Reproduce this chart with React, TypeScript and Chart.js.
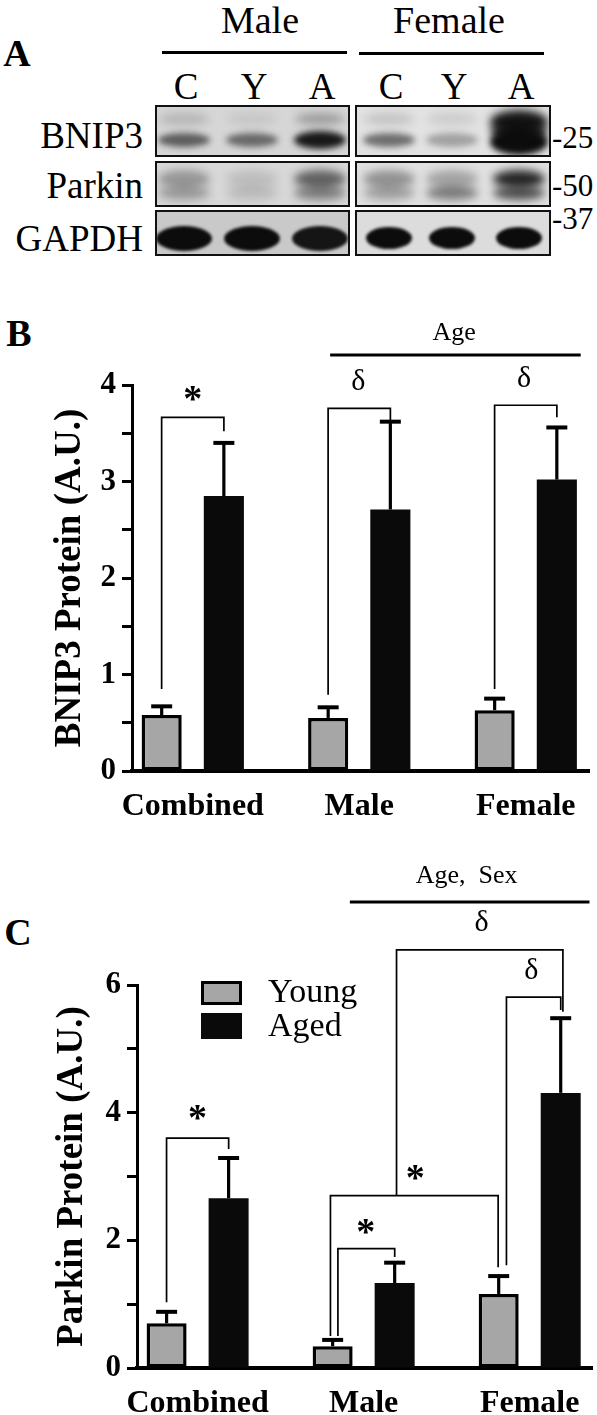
import React, { useEffect, useRef } from 'react';
import { Chart, registerables } from 'chart.js';

Chart.register(...registerables);

const SERIF = '"Liberation Serif", "Times New Roman", serif';
Chart.defaults.font.family = SERIF;
Chart.defaults.color = '#000';

// ---------- Panel A (western blot) ----------
const blotSexes = ['Male', 'Female'];
const blotLanes = ['C', 'Y', 'A'];
const blotRows = ['BNIP3', 'Parkin', 'GAPDH'];
const blotMarkers = ['-25', '-50', '-37'];
// band darkness per lane: Male C, Y, A, Female C, Y, A
const bnip3Upper = [0.16, 0.08, 0.28, 0.14, 0.1, 0.95];
const bnip3Lower = [0.6, 0.54, 0.94, 0.54, 0.3, 1.0];
const parkinUpper = [0.32, 0.12, 0.58, 0.36, 0.28, 0.88];
const parkinLower = [0.3, 0.14, 0.44, 0.3, 0.47, 0.68];
const gapdhBand = [1, 1, 0.95, 1, 1, 1];

// ---------- Panels B & C (bar charts) ----------
const groups = ['Combined', 'Male', 'Female'];
const groupIndex = [0, 1, 2];
const seriesNames = ['Young', 'Aged'];

const bnip3Young = [0.58, 0.55, 0.63];
const bnip3YoungErr = [0.09, 0.11, 0.12];
const bnip3Aged = [2.85, 2.71, 3.02];
const bnip3AgedErr = [0.55, 0.91, 0.54];
const bnip3Max = 4;
const bnip3Step = 0.5;

const parkinYoung = [0.7, 0.34, 1.16];
const parkinYoungErr = [0.18, 0.1, 0.28];
const parkinAged = [2.66, 1.33, 4.31];
const parkinAgedErr = [0.63, 0.32, 1.17];
const parkinMax = 6;
const parkinStep = 1;

type Bracket = { x1: number; x2: number; top: number; b1: number; b2: number };
type Mark = { x: number; y: number; text: string; kind: 'star' | 'delta' };
type Factor = { x1: number; x2: number; y: number; text: string; tx: number; ty: number };

const bnip3Brackets: Bracket[] = [
  { x1: -0.187, x2: 0.187, top: 3.665, b1: 0.85, b2: 3.52 },
  { x1: 0.813, x2: 1.187, top: 3.758, b1: 0.79, b2: 3.62 },
  { x1: 1.813, x2: 2.187, top: 3.79, b1: 0.85, b2: 3.665 },
];
const bnip3Marks: Mark[] = [
  { x: 0, y: 3.91, text: '*', kind: 'star' },
  { x: 0.994, y: 4.03, text: 'δ', kind: 'delta' },
  { x: 1.99, y: 4.06, text: 'δ', kind: 'delta' },
];
const bnip3Factor: Factor = { x1: 0.825, x2: 2.33, y: 4.31, text: 'Age', tx: 1.57, ty: 4.54 };

const parkinBrackets: Bracket[] = [
  { x1: -0.187, x2: 0.187, top: 3.6, b1: 1.03, b2: 3.43 },
  { x1: 0.845, x2: 1.187, top: 1.87, b1: 0.5, b2: 1.74 },
  { x1: 0.8, x2: 1.81, top: 2.7, b1: 0.5, b2: 1.58 },
  { x1: 1.198, x2: 2.2, top: 6.55, b1: 2.7, b2: 5.58 },
  { x1: 1.86, x2: 2.187, top: 5.81, b1: 1.61, b2: 5.61 },
];
const parkinMarks: Mark[] = [
  { x: 0, y: 4.0, text: '*', kind: 'star' },
  { x: 1.013, y: 2.21, text: '*', kind: 'star' },
  { x: 1.31, y: 3.06, text: '*', kind: 'star' },
  { x: 1.71, y: 6.97, text: 'δ', kind: 'delta' },
  { x: 2.01, y: 6.21, text: 'δ', kind: 'delta' },
];
const parkinFactor: Factor = { x1: 0.917, x2: 2.36, y: 7.3, text: 'Age,  Sex', tx: 1.62, ty: 7.7 };

function Txt(props: { x: number; y: number; size: number; bold?: boolean; align?: 'center' | 'left' | 'right'; children: any }) {
  const { x, y, size, bold, align = 'center', children } = props;
  const tx = align === 'center' ? '-50%' : align === 'right' ? '-100%' : '0';
  return (
    <div
      style={{
        position: 'absolute',
        left: x,
        top: y,
        transform: `translate(${tx},-50%)`,
        fontSize: size,
        fontWeight: bold ? 700 : 400,
        lineHeight: 1,
        whiteSpace: 'pre',
        fontFamily: SERIF,
        color: '#000',
      }}
    >
      {children}
    </div>
  );
}

function PanelA() {
  const laneX = [184, 252, 320, 389, 452, 519];
  const boxes = [
    { l: 155, r: 350 },
    { l: 355, r: 551 },
  ];
  const rows = [
    { t: 105, b: 157 },
    { t: 161, b: 207 },
    { t: 210, b: 256 },
  ];
  const bg = [
    ['#d6d6d6', '#e2e2e2'],
    ['#d8d8d8', '#e0e0e0'],
    ['#c9c9c9', '#dcdcdc'],
  ];
  type Band = { row: number; lane: number; cy: number; w: number; h: number; a: number; blur: number };
  const bands: Band[] = [];
  laneX.forEach((_, i) => {
    const fem = i >= 3;
    const fa = i === 5;
    bands.push({ row: 0, lane: i, cy: fa ? 17 : 14, w: fa ? 58 : 50, h: fa ? 24 : 12, a: bnip3Upper[i], blur: 4 });
    if (fa) bands.push({ row: 0, lane: i, cy: 27, w: 56, h: 20, a: 0.9, blur: 4 });
    bands.push({ row: 0, lane: i, cy: fa ? 37 : 35, w: fa ? 58 : 52, h: fa ? 26 : i === 2 ? 18 : 14, a: bnip3Lower[i], blur: 3 });
    bands.push({ row: 1, lane: i, cy: 18, w: 52, h: 18, a: parkinUpper[i], blur: 4 });
    bands.push({ row: 1, lane: i, cy: 32, w: 52, h: 14, a: parkinLower[i], blur: 4 });
    bands.push({ row: 2, lane: i, cy: 28, w: fem ? 46 : 56, h: fem ? 22 : 25, a: gapdhBand[i], blur: 1.5 });
  });
  return (
    <>
      <Txt x={17} y={53} size={38} bold>A</Txt>
      {blotSexes.map((s, si) => (
        <React.Fragment key={s}>
          <Txt x={si === 0 ? 260 : 449} y={20} size={38}>{s}</Txt>
          <div
            style={{
              position: 'absolute',
              left: si === 0 ? 162 : 359,
              top: si === 0 ? 51 : 52,
              width: 185,
              height: 3,
              background: '#000',
            }}
          />
        </React.Fragment>
      ))}
      {laneX.map((x, i) => (
        <Txt key={'l' + i} x={x + 2} y={86} size={37}>
          {blotLanes[i % 3]}
        </Txt>
      ))}
      {blotRows.map((r, ri) => (
        <Txt key={r} x={143} y={[135, 185, 238][ri]} size={37} align="right">
          {r}
        </Txt>
      ))}
      {blotMarkers.map((m, mi) => (
        <Txt key={m} x={552} y={[137, 185, 218][mi]} size={31} align="left">
          {m}
        </Txt>
      ))}
      {rows.map((row, ri) =>
        boxes.map((bx, bi) => (
          <div
            key={ri + '-' + bi}
            style={{
              position: 'absolute',
              left: bx.l,
              top: row.t,
              width: bx.r - bx.l,
              height: row.b - row.t,
              border: '2px solid #111',
              boxSizing: 'border-box',
              background: bg[ri][bi],
              overflow: 'hidden',
            }}
          >
            {bands
              .filter((b) => b.row === ri && (b.lane >= 3 ? 1 : 0) === bi)
              .map((b, k) => (
                <div
                  key={k}
                  style={{
                    position: 'absolute',
                    left: laneX[b.lane] - bx.l - 2 - b.w / 2,
                    top: b.cy - 2 - b.h / 2,
                    width: b.w,
                    height: b.h,
                    borderRadius: '50%',
                    background: `rgba(12,12,12,${b.a})`,
                    filter: `blur(${b.blur}px)`,
                  }}
                />
              ))}
          </div>
        ))
      )}
    </>
  );
}

type PanelProps = {
  top: number;
  height: number;
  young: number[];
  youngErr: number[];
  aged: number[];
  agedErr: number[];
  yMax: number;
  yStep: number;
  labelEvery: number;
  title: string;
  titleX: number;
  axisLeft: number;
  axisRight: number;
  areaTop: number;
  areaBottom: number;
  brackets: Bracket[];
  marks: Mark[];
  factor: Factor;
  legend: boolean;
};

function BarPanel(p: PanelProps) {
  const ref = useRef<HTMLCanvasElement | null>(null);
  useEffect(() => {
    const canvas = ref.current;
    if (!canvas) return;
    const errorBars = {
      id: 'errorBars',
      afterDatasetsDraw(chart: any) {
        const ctx = chart.ctx;
        const ys = chart.scales.y;
        chart.data.datasets.forEach((ds: any, di: number) => {
          const meta = chart.getDatasetMeta(di);
          meta.data.forEach((bar: any, i: number) => {
            const v = ds.data[i].y + ds.errors[i];
            const yt = ys.getPixelForValue(v);
            ctx.save();
            ctx.strokeStyle = '#000';
            ctx.lineWidth = 3.2;
            ctx.beginPath();
            ctx.moveTo(bar.x, bar.y);
            ctx.lineTo(bar.x, yt);
            ctx.stroke();
            ctx.lineWidth = 4;
            ctx.beginPath();
            ctx.moveTo(bar.x - 10.5, yt);
            ctx.lineTo(bar.x + 10.5, yt);
            ctx.stroke();
            ctx.restore();
          });
        });
      },
    };
    const annotations = {
      id: 'sigAnnotations',
      afterDraw(chart: any) {
        const ctx = chart.ctx;
        const xs = chart.scales.x;
        const ys = chart.scales.y;
        const X = (v: number) => xs.getPixelForValue(v);
        const Y = (v: number) => ys.getPixelForValue(v);
        ctx.save();
        ctx.strokeStyle = '#000';
        ctx.lineWidth = 1.7;
        p.brackets.forEach((b) => {
          ctx.beginPath();
          ctx.moveTo(X(b.x1), Y(b.b1));
          ctx.lineTo(X(b.x1), Y(b.top));
          ctx.lineTo(X(b.x2), Y(b.top));
          ctx.lineTo(X(b.x2), Y(b.b2));
          ctx.stroke();
        });
        ctx.fillStyle = '#000';
        ctx.textAlign = 'center';
        ctx.textBaseline = 'middle';
        p.marks.forEach((m) => {
          if (m.kind === 'star') {
            const fs = 38;
            ctx.font = `bold ${fs}px ${SERIF}`;
            ctx.fillText(m.text, X(m.x), Y(m.y) + 0.19 * fs);
          } else {
            ctx.font = `30px ${SERIF}`;
            ctx.fillText(m.text, X(m.x), Y(m.y));
          }
        });
        const f = p.factor;
        ctx.lineWidth = 3;
        ctx.beginPath();
        ctx.moveTo(X(f.x1), Y(f.y));
        ctx.lineTo(X(f.x2), Y(f.y));
        ctx.stroke();
        ctx.font = `26px ${SERIF}`;
        ctx.fillText(f.text, X(f.tx), Y(f.ty));
        ctx.restore();
      },
    };
    const legendPlugin = {
      id: 'sideLegend',
      afterDraw(chart: any) {
        if (!p.legend) return;
        const ctx = chart.ctx;
        const a = chart.chartArea;
        ctx.save();
        chart.data.datasets.forEach((ds: any, i: number) => {
          const bx = a.left + 64;
          const by = a.top - 4 + i * 32;
          const bw = 41;
          const bh = i === 0 ? 24 : 26;
          ctx.fillStyle = ds.backgroundColor;
          ctx.fillRect(bx, by, bw, bh);
          if (ds.borderWidth) {
            ctx.strokeStyle = '#000';
            ctx.lineWidth = 3;
            ctx.strokeRect(bx + 1.5, by + 1.5, bw - 3, bh - 3);
          }
          ctx.fillStyle = '#000';
          ctx.font = `34px ${SERIF}`;
          ctx.textAlign = 'left';
          ctx.textBaseline = 'middle';
          ctx.fillText(ds.label, a.left + 131, a.top + 8 + i * 34);
        });
        ctx.restore();
      },
    };
    const yTickCount = Math.round(p.yMax / p.yStep);
    const chart = new Chart(canvas, {
      type: 'bar',
      data: {
        datasets: [
          {
            label: seriesNames[0],
            data: groupIndex.map((g, i) => ({ x: g, y: p.young[i] })),
            errors: p.youngErr,
            backgroundColor: '#a6a6a6',
            borderColor: '#000',
            borderWidth: 3.5,
            borderSkipped: false,
            categoryPercentage: 0.747,
            barPercentage: 0.645,
          } as any,
          {
            label: seriesNames[1],
            data: groupIndex.map((g, i) => ({ x: g, y: p.aged[i] })),
            errors: p.agedErr,
            backgroundColor: '#0a0a0a',
            borderColor: '#0a0a0a',
            borderWidth: 0,
            categoryPercentage: 0.747,
            barPercentage: 0.645,
          } as any,
        ],
      },
      options: {
        responsive: false,
        animation: false,
        devicePixelRatio: 1,
        layout: { padding: { top: p.areaTop, right: 597 - p.axisRight, left: 0, bottom: 0 } },
        plugins: { legend: { display: false }, tooltip: { enabled: false } },
        scales: {
          x: {
            type: 'linear',
            min: -0.365,
            max: 2.38,
            offset: false,
            z: 1,
            afterBuildTicks: (s: any) => {
              s.ticks = groupIndex.map((v) => ({ value: v }));
            },
            afterFit: (s: any) => {
              s.height = p.height - p.areaBottom;
            },
            ticks: {
              autoSkip: false,
              maxRotation: 0,
              padding: 17,
              color: '#000',
              font: { family: SERIF, size: 32, weight: 'bold' },
              callback: (v: any) => groups[v as number],
            },
            grid: { display: false, drawTicks: false, offset: false },
            border: { display: true, width: 4, color: '#000' },
          },
          y: {
            min: 0,
            max: p.yMax,
            z: 1,
            afterFit: (s: any) => {
              s.width = p.axisLeft;
            },
            afterBuildTicks: (s: any) => {
              s.ticks = Array.from({ length: yTickCount + 1 }, (_, i) => ({ value: i * p.yStep }));
            },
            ticks: {
              autoSkip: false,
              padding: 6,
              color: '#000',
              font: { family: SERIF, size: 31, weight: 'bold' },
              callback: (v: any) => {
                const n = Number(v);
                return Math.abs(n / p.labelEvery - Math.round(n / p.labelEvery)) < 1e-6 ? String(n) : '';
              },
            },
            grid: { drawOnChartArea: false, drawTicks: true, tickLength: 10, tickWidth: 3, color: '#000' },
            border: { display: true, width: 3, color: '#000' },
            title: {
              display: true,
              text: p.title,
              color: '#000',
              font: { family: SERIF, size: 37, weight: 'bold' },
              padding: { top: p.titleX - 22.2, bottom: 0 },
            },
          },
        },
      } as any,
      plugins: [errorBars, annotations, legendPlugin],
    });
    return () => chart.destroy();
  }, []);
  return (
    <canvas
      ref={ref}
      width={597}
      height={p.height}
      style={{ position: 'absolute', left: 0, top: p.top, width: 597, height: p.height }}
    />
  );
}

export default function App() {
  useEffect(() => {
    document.body.style.margin = '0';
  }, []);
  return (
    <div style={{ position: 'relative', width: 597, height: 1415, background: '#fff', overflow: 'hidden', fontFamily: SERIF }}>
      <PanelA />
      <Txt x={19} y={333} size={38} bold>B</Txt>
      <BarPanel
        top={290}
        height={540}
        young={bnip3Young}
        youngErr={bnip3YoungErr}
        aged={bnip3Aged}
        agedErr={bnip3AgedErr}
        yMax={bnip3Max}
        yStep={bnip3Step}
        labelEvery={1}
        title="BNIP3 Protein (A.U.)"
        titleX={70}
        axisLeft={132}
        axisRight={589}
        areaTop={95}
        areaBottom={481}
        brackets={bnip3Brackets}
        marks={bnip3Marks}
        factor={bnip3Factor}
        legend={false}
      />
      <Txt x={18} y={932} size={38} bold>C</Txt>
      <BarPanel
        top={840}
        height={575}
        young={parkinYoung}
        youngErr={parkinYoungErr}
        aged={parkinAged}
        agedErr={parkinAgedErr}
        yMax={parkinMax}
        yStep={parkinStep}
        labelEvery={2}
        title="Parkin Protein (A.U.)"
        titleX={72}
        axisLeft={137}
        axisRight={593}
        areaTop={145}
        areaBottom={528}
        brackets={parkinBrackets}
        marks={parkinMarks}
        factor={parkinFactor}
        legend={true}
      />
    </div>
  );
}
